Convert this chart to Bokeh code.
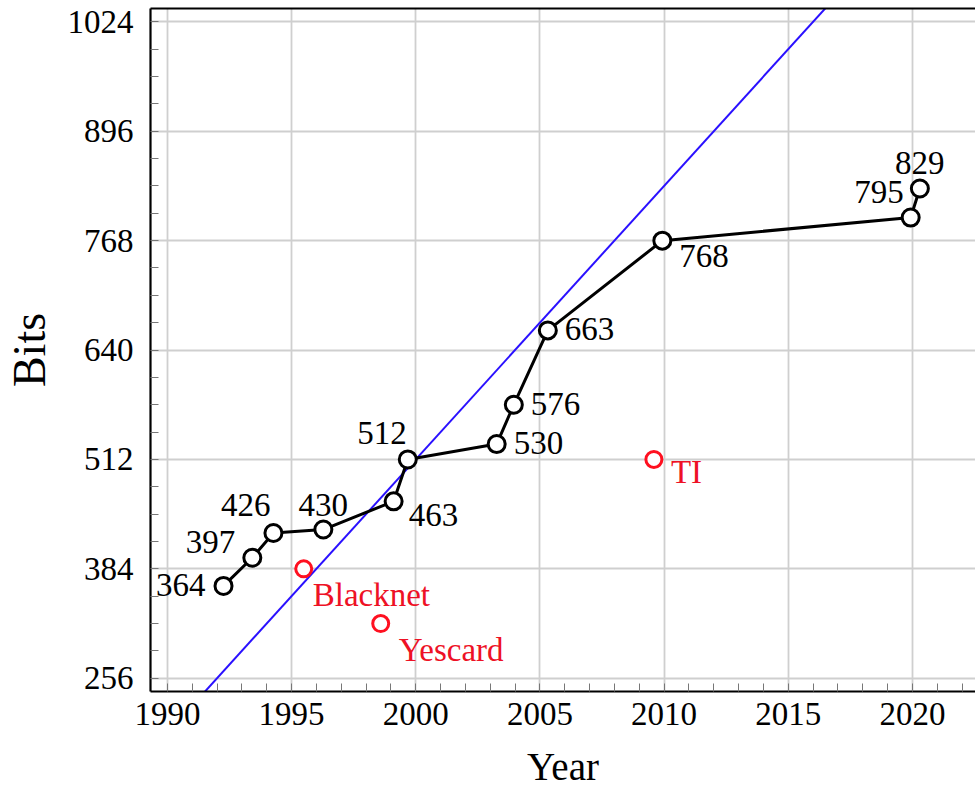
from bokeh.plotting import figure
from bokeh.models import Range1d, FixedTicker, LinearAxis, ColumnDataSource
from bokeh.core.properties import value
from bokeh.embed import file_html
from bokeh.resources import INLINE

# ---- data ----
rsa_years = [1992.26, 1993.42, 1994.27, 1996.28, 1999.11, 1999.68,
             2003.26, 2003.95, 2005.32, 2009.93, 2019.93, 2020.30]
rsa_bits = [364, 397, 426, 430, 463, 512, 530, 576, 663, 768, 795, 829]

other_years = [1995.49, 1998.59, 2009.59]
other_bits = [384, 320, 512]
other_names = ["Blacknet", "Yescard", "TI"]

trend_years = [1990, 2025]
trend_bits = [192, 1312]

x_ticks = [1990, 1995, 2000, 2005, 2010, 2015, 2020]
x_minor = list(range(1989, 2024))
y_ticks = [256, 384, 512, 640, 768, 896, 1024]
y_minor = list(range(224, 1057, 32))

x_lo, x_hi = 1989.32, 2022.54
y_lo, y_hi = 240.5, 1039.6

# ---- label placement (style) ----
rsa_align = ["right", "right", "right", "center", "left", "right",
             "left", "left", "left", "left", "right", "center"]
rsa_dx = [-18, -17, -3, 0, 15, -1, 17, 17, 17, 17, -7, 0]
rsa_dy = [-1, -16, -28, -25, 14, -26, -1, -1, -1, 15, -26, -26]
other_dx = [9, 18, 17]
other_dy = [26, 26, 13]

FONT = "Liberation Serif"

p = figure(width=975, height=790, output_backend="svg", toolbar_location=None,
           x_range=Range1d(x_lo, x_hi), y_range=Range1d(y_lo, y_hi),
           x_axis_label="Year", y_axis_label="Bits",
           min_border_left=150, min_border_right=0, min_border_top=8,
           min_border_bottom=97)
p.outline_line_color = None
p.background_fill_color = "white"
p.border_fill_color = "white"

xt = FixedTicker(ticks=x_ticks, minor_ticks=x_minor)
yt = FixedTicker(ticks=y_ticks, minor_ticks=y_minor)
p.xaxis.ticker = xt
p.yaxis.ticker = yt
p.xgrid.ticker = xt
p.ygrid.ticker = yt
for g in (p.xgrid, p.ygrid):
    g.grid_line_color = "#cfcfcf"
    g.grid_line_width = 1.8

for ax in (p.xaxis[0], p.yaxis[0]):
    ax.axis_line_color = "black"
    ax.axis_line_width = 2.2
    ax.major_tick_in = 0
    ax.major_tick_out = 0
    ax.minor_tick_in = 8
    ax.minor_tick_out = 0
    ax.minor_tick_line_color = "#777777"
    ax.minor_tick_line_width = 1
    ax.major_label_text_font = FONT
    ax.major_label_text_font_size = "33px"
    ax.major_label_text_color = "black"
    ax.axis_label_text_font = FONT
    ax.axis_label_text_font_style = "normal"
    ax.axis_label_text_color = "black"

p.xaxis.major_label_standoff = 11
p.xaxis.axis_label_standoff = 17
p.xaxis.axis_label_text_font_size = "39px"
p.yaxis.major_label_standoff = 17
p.yaxis.axis_label_standoff = 10
p.yaxis.axis_label_text_font_size = "46px"

top = LinearAxis(ticker=FixedTicker(ticks=[]), major_label_text_font_size="0px",
                 major_tick_in=0, major_tick_out=0, minor_tick_in=0, minor_tick_out=0,
                 major_label_standoff=0, axis_line_width=2.2, axis_line_color="black")
p.add_layout(top, "above")

# trend line
p.line(trend_years, trend_bits, line_color="#2a10ff", line_width=2)

# RSA records
rsa_src = ColumnDataSource(dict(x=rsa_years, y=rsa_bits,
                                t=[str(b) for b in rsa_bits],
                                align=rsa_align, dx=rsa_dx, dy=rsa_dy))
p.line("x", "y", source=rsa_src, line_color="black", line_width=3)
p.scatter("x", "y", source=rsa_src, marker="circle", size=17,
          fill_color="white", line_color="black", line_width=3)
p.text("x", "y", text="t", source=rsa_src, text_align="align",
       text_baseline="alphabetic", x_offset="dx", y_offset="dy",
       text_font=value(FONT), text_font_size="33px", text_color="black")

# other points
oth_src = ColumnDataSource(dict(x=other_years, y=other_bits, t=other_names,
                                dx=other_dx, dy=other_dy))
p.scatter("x", "y", source=oth_src, marker="circle", size=16,
          fill_color="white", line_color="#ff1020", line_width=3)
p.text("x", "y", text="t", source=oth_src, text_align="left",
       text_baseline="alphabetic", x_offset="dx", y_offset="dy",
       text_font=value(FONT), text_font_size="33px", text_color="#ee1125")

open("out.html", "w").write(file_html(p, INLINE))
